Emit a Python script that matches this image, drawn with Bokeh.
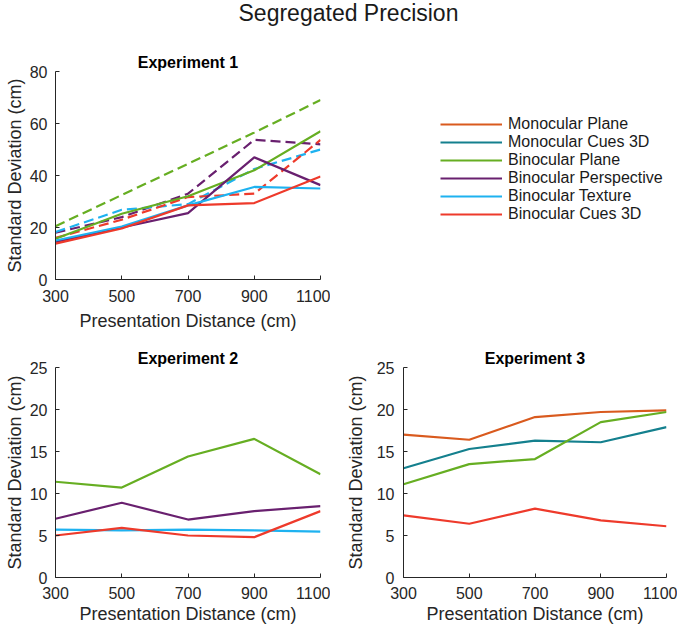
from bokeh.plotting import figure
from bokeh.models import Range1d, Legend, LegendItem, Div, FixedTicker
from bokeh.layouts import column, row
from bokeh.embed import file_html
from bokeh.resources import INLINE

# ---------------- data ----------------
distance = [300, 500, 700, 900, 1100]
x_ticks = [300, 500, 700, 900, 1100]

# Experiment 1 (solid = measured, dashed = second series)
exp1_bin_plane = [15.7, 25.3, 32.0, 42.0, 57.0]
exp1_bin_plane_dash = [20.5, 32.5, 44.5, 56.5, 69.0]
exp1_bin_persp = [14.5, 20.0, 25.5, 47.0, 36.3]
exp1_bin_persp_dash = [18.0, 24.0, 33.0, 53.7, 52.0]
exp1_bin_texture = [15.0, 20.4, 28.5, 35.6, 35.0]
exp1_bin_texture_dash = [18.3, 26.8, 29.0, 42.5, 50.0]
exp1_bin_cues = [13.8, 19.6, 28.5, 29.4, 39.6]
exp1_bin_cues_dash = [16.0, 23.0, 31.7, 33.0, 53.7]

# Experiment 2
exp2_bin_plane = [11.4, 10.7, 14.4, 16.5, 12.3]
exp2_bin_persp = [7.0, 8.9, 6.9, 7.9, 8.5]
exp2_bin_texture = [5.7, 5.6, 5.7, 5.6, 5.45]
exp2_bin_cues = [5.0, 5.9, 5.0, 4.8, 7.9]

# Experiment 3
exp3_mono_plane = [17.0, 16.4, 19.1, 19.7, 19.9]
exp3_mono_cues = [13.0, 15.3, 16.3, 16.1, 17.9]
exp3_bin_plane = [11.1, 13.5, 14.1, 18.5, 19.7]
exp3_bin_cues = [7.4, 6.4, 8.2, 6.8, 6.1]

legend_labels = ["Monocular Plane", "Monocular Cues 3D", "Binocular Plane",
                 "Binocular Perspective", "Binocular Texture", "Binocular Cues 3D"]

C_MONO_PLANE = "#D95A1E"
C_MONO_CUES = "#14808E"
C_BIN_PLANE = "#66AE22"
C_BIN_PERSP = "#69206F"
C_BIN_TEX = "#1EB2F0"
C_BIN_CUES = "#EE3A2B"

FONT = "Liberation Sans"
AX = "#262626"
LW = 2.2
DASH = "10 5"


def make_fig(title, width, height, ymax, yticks, bl, br, bt, bb,
             x_std=10, x_als=4, y_std=5, y_als=3):
    p = figure(width=width, height=height, x_range=Range1d(300, 1100), y_range=Range1d(0, ymax),
               output_backend="svg", toolbar_location=None,
               min_border_left=bl, min_border_right=br, min_border_top=bt, min_border_bottom=bb)
    p.title.text = title
    p.title.align = "center"
    p.title.text_font = FONT
    p.title.text_font_size = "16px"
    p.title.text_font_style = "bold"
    p.title.text_color = "#000000"
    p.title.standoff = 2
    p.outline_line_color = None
    p.xgrid.visible = False
    p.ygrid.visible = False
    p.background_fill_color = "white"
    p.border_fill_color = "white"
    p.xaxis.ticker = FixedTicker(ticks=x_ticks)
    p.yaxis.ticker = FixedTicker(ticks=yticks)
    p.xaxis.axis_label = "Presentation Distance (cm)"
    p.yaxis.axis_label = "Standard Deviation (cm)"
    for ax in (p.xaxis, p.yaxis):
        ax.axis_line_color = AX
        ax.axis_line_width = 1
        ax.major_tick_line_color = AX
        ax.major_tick_in = 4
        ax.major_tick_out = 0
        ax.minor_tick_line_color = None
        ax.major_label_text_font = FONT
        ax.major_label_text_font_size = "16px"
        ax.major_label_text_color = AX
        ax.axis_label_text_font = FONT
        ax.axis_label_text_font_size = "18px"
        ax.axis_label_text_font_style = "normal"
        ax.axis_label_text_color = AX
    p.xaxis.major_label_standoff = x_std
    p.xaxis.axis_label_standoff = x_als
    p.yaxis.major_label_standoff = y_std
    p.yaxis.axis_label_standoff = y_als
    return p


# ---------- Experiment 1 ----------
p1 = make_fig("Experiment 1", 330, 297, 80, [0, 20, 40, 60, 80], 55, 10, 34, 55,
              x_std=10, x_als=6, y_std=8, y_als=2)
p1.line(distance, exp1_bin_plane_dash, line_color=C_BIN_PLANE, line_width=LW, line_dash=DASH)
p1.line(distance, exp1_bin_persp_dash, line_color=C_BIN_PERSP, line_width=LW, line_dash=DASH)
p1.line(distance, exp1_bin_texture_dash, line_color=C_BIN_TEX, line_width=LW, line_dash=DASH)
p1.line(distance, exp1_bin_cues_dash, line_color=C_BIN_CUES, line_width=LW, line_dash=DASH)
p1.line(distance, exp1_bin_plane, line_color=C_BIN_PLANE, line_width=LW)
p1.line(distance, exp1_bin_persp, line_color=C_BIN_PERSP, line_width=LW)
p1.line(distance, exp1_bin_texture, line_color=C_BIN_TEX, line_width=LW)
p1.line(distance, exp1_bin_cues, line_color=C_BIN_CUES, line_width=LW)

# ---------- Legend panel (proxy renderers lie outside the visible ranges) ----------
pl = figure(width=347, height=297, x_range=Range1d(0, 1), y_range=Range1d(0, 1),
            x_axis_type=None, y_axis_type=None, title=None,
            output_backend="svg", toolbar_location=None,
            min_border_left=0, min_border_top=34, min_border_right=0, min_border_bottom=55)
pl.xgrid.visible = False
pl.ygrid.visible = False
pl.outline_line_color = None
pl.background_fill_color = "white"
pl.border_fill_color = "white"
proxy_series = [(exp3_mono_plane, C_MONO_PLANE), (exp3_mono_cues, C_MONO_CUES),
                (exp2_bin_plane, C_BIN_PLANE), (exp2_bin_persp, C_BIN_PERSP),
                (exp2_bin_texture, C_BIN_TEX), (exp2_bin_cues, C_BIN_CUES)]
items = []
for lab, (ys, col) in zip(legend_labels, proxy_series):
    r = pl.line(distance, ys, line_color=col, line_width=LW)
    items.append(LegendItem(label=lab, renderers=[r]))
leg = Legend(items=items, location=(110, 56), orientation="vertical",
             glyph_width=62, glyph_height=14, label_height=14, label_standoff=6,
             spacing=0, padding=0, margin=0, border_line_color=None,
             background_fill_alpha=0, label_text_font=FONT, label_text_font_size="16px",
             label_text_color="#1a1a1a")
pl.add_layout(leg)

# ---------- Experiment 2 ----------
p2 = make_fig("Experiment 2", 330, 293, 25, [0, 5, 10, 15, 20, 25], 55, 10, 33, 50,
              x_std=9, x_als=2, y_std=8, y_als=2)
p2.line(distance, exp2_bin_plane, line_color=C_BIN_PLANE, line_width=LW)
p2.line(distance, exp2_bin_persp, line_color=C_BIN_PERSP, line_width=LW)
p2.line(distance, exp2_bin_texture, line_color=C_BIN_TEX, line_width=LW)
p2.line(distance, exp2_bin_cues, line_color=C_BIN_CUES, line_width=LW)

# ---------- Experiment 3 ----------
p3 = make_fig("Experiment 3", 347, 293, 25, [0, 5, 10, 15, 20, 25], 73, 11, 33, 50,
              x_std=9, x_als=2, y_std=9, y_als=8)
p3.line(distance, exp3_mono_plane, line_color=C_MONO_PLANE, line_width=LW)
p3.line(distance, exp3_mono_cues, line_color=C_MONO_CUES, line_width=LW)
p3.line(distance, exp3_bin_plane, line_color=C_BIN_PLANE, line_width=LW)
p3.line(distance, exp3_bin_cues, line_color=C_BIN_CUES, line_width=LW)

title = Div(text='<div style="position:relative; top:-8px; left:5px;">Segregated Precision</div>',
            width=677, height=27,
            styles={"text-align": "center", "font-size": "23px", "font-family": FONT,
                    "color": "#1a1a1a", "width": "677px"})

layout = column(title, row(p1, pl), row(p2, p3))

with open("out.html", "w") as f:
    f.write(file_html(layout, INLINE))
